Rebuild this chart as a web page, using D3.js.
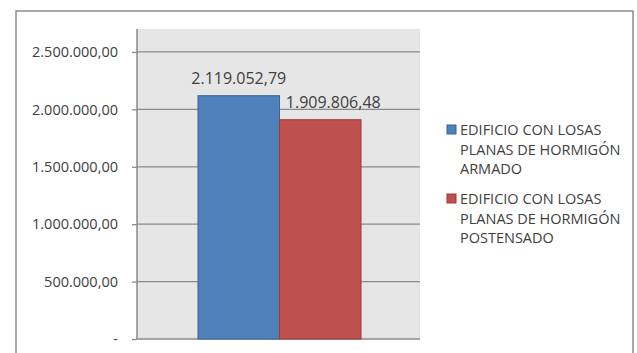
<!DOCTYPE html>
<html>
<head>
<meta charset="utf-8">
<script src="https://cdn.jsdelivr.net/npm/d3@7"></script>
<style>
  body { margin: 0; background: #fff; }
  text { font-family: "Open Sans", sans-serif; fill: #404040; }
</style>
</head>
<body>
<div class="chart"></div>
<script>
// chart values
const series = ['EDIFICIO CON LOSAS PLANAS DE HORMIGÓN ARMADO', 'EDIFICIO CON LOSAS PLANAS DE HORMIGÓN POSTENSADO']
const values = [2119052.79, 1909806.48]
const labels = ['2.119.052,79', '1.909.806,48']
const colors = ['#4f81bd', '#c0504d']
const strokes = ['#3a6593', '#9a3b38']
const tickValues = [0, 500000, 1000000, 1500000, 2000000, 2500000]
const tickLabels = ['-', '500.000,00', '1.000.000,00', '1.500.000,00', '2.000.000,00', '2.500.000,00']
const legendLines = [['EDIFICIO CON LOSAS', 'PLANAS DE HORMIGÓN', 'ARMADO'], ['EDIFICIO CON LOSAS', 'PLANAS DE HORMIGÓN', 'POSTENSADO']]

const width = 637
const height = 353
const svg = d3.select('.chart').append('svg').attr('width', width).attr('height', height)

// outer frame
svg.append('rect')
    .attr('x', 16).attr('y', 11)
    .attr('width', 617).attr('height', 360)
    .attr('fill', 'white')
    .attr('stroke', '#8c8c8c')
    .attr('stroke-width', 1.5)

const plot = {left: 137, right: 420, top: 29, bottom: 339}

const y = d3.scaleLinear().domain([0, 2700000]).range([plot.bottom, plot.top])
const x = d3.scaleBand().domain(series).range([198, 361])

svg.append('rect')
    .attr('x', plot.left).attr('y', plot.top)
    .attr('width', plot.right - plot.left).attr('height', plot.bottom - plot.top)
    .attr('fill', '#e6e6e6')

// gridlines
svg.selectAll('line.grid')
    .data(tickValues)
    .enter()
    .append('line')
    .attr('class', 'grid')
    .attr('x1', plot.left).attr('x2', plot.right)
    .attr('y1', d=>y(d)).attr('y2', d=>y(d))
    .attr('stroke', '#8a8a8a')
    .attr('stroke-width', 1.3)

// y axis
const axis = svg.append('g')
    .attr('transform', `translate(${plot.left},0)`)
    .call(d3.axisLeft(y).tickValues(tickValues).tickSize(5).tickPadding(14)
        .tickFormat((d,i)=>tickLabels[i]))
axis.select('.domain').attr('stroke', '#8a8a8a').attr('stroke-width', 1.5)
    .attr('d', `M0,${plot.top}V${plot.bottom}`)
axis.selectAll('.tick line').attr('stroke', '#8a8a8a').attr('stroke-width', 1.3)
axis.selectAll('.tick text')
    .attr('font-family', '"Open Sans", sans-serif')
    .attr('font-size', 14.5)
    .attr('fill', '#404040')

// bars
svg.selectAll('rect.bar')
    .data(values)
    .enter()
    .append('rect')
    .attr('class', 'bar')
    .attr('x', (d,i)=>x(series[i]))
    .attr('y', d=>y(d))
    .attr('width', x.bandwidth())
    .attr('height', d=>plot.bottom - y(d))
    .attr('fill', (d,i)=>colors[i])
    .attr('stroke', (d,i)=>strokes[i])
    .attr('stroke-width', 1)

// value labels (second one nudged right like the original)
const labelShift = [0, 13]
svg.selectAll('text.value')
    .data(values)
    .enter()
    .append('text')
    .attr('class', 'value')
    .text((d,i)=>labels[i])
    .attr('x', (d,i)=>x(series[i]) + x.bandwidth()/2 + labelShift[i])
    .attr('y', d=>y(d) - 12)
    .attr('font-size', 16)
    .attr('text-anchor', 'middle')
    .attr('fill', '#404040')

// legend
const legend = svg.selectAll('g.legend')
    .data(series)
    .enter()
    .append('g')
    .attr('class', 'legend')
    .attr('transform', (d,i)=>`translate(447,${125 + i*69})`)
legend.append('rect')
    .attr('width', 9).attr('height', 9)
    .attr('fill', (d,i)=>colors[i])
    .attr('stroke', (d,i)=>strokes[i])
legend.selectAll('text')
    .data((d,i)=>legendLines[i])
    .enter()
    .append('text')
    .text(d=>d)
    .attr('x', 13)
    .attr('y', (d,i)=>10 + i*19.5)
    .attr('font-size', 14.5)
</script>
</body>
</html>
